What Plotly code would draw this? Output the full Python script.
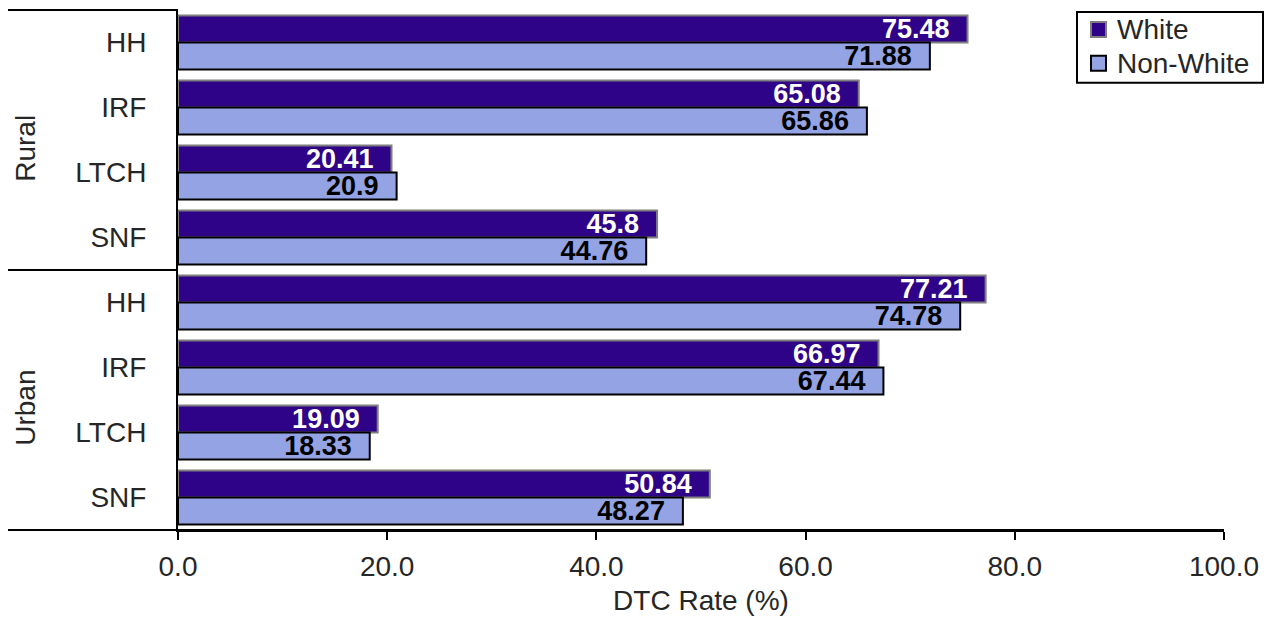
import plotly.graph_objects as go

# Discharge-to-community rates by setting, rurality and race
groups = ["Rural", "Rural", "Rural", "Rural", "Urban", "Urban", "Urban", "Urban"]
settings = ["HH", "IRF", "LTCH", "SNF", "HH", "IRF", "LTCH", "SNF"]
white = [75.48, 65.08, 20.41, 45.8, 77.21, 66.97, 19.09, 50.84]
non_white = [71.88, 65.86, 20.9, 44.76, 74.78, 67.44, 18.33, 48.27]
x_ticks = [0, 20, 40, 60, 80, 100]
x_tick_labels = ["0.0", "20.0", "40.0", "60.0", "80.0", "100.0"]
series_names = ["White", "Non-White"]
series_fill = ["#2f0388", "#94a3e3"]
series_edge = ["#7f7f7f", "black"]
label_colors = ["white", "black"]

keys = [f"{g} {s}" for g, s in zip(groups, settings)]
FONT = "Liberation Sans, Arial, sans-serif"
TXT = "#262626"
PAD = "\u00a0\u00a0"

# plot area in pixels, used to place decorations in paper coordinates
L, R, T, B = 178, 1224, 10, 532


def px(x):
    return (x - L) / (R - L)


def py(y):
    return (B - y) / (B - T)


fig = go.Figure()
for name, vals, fill, edge, lc in zip(series_names, [white, non_white],
                                      series_fill, series_edge, label_colors):
    fig.add_trace(go.Bar(
        name=name, y=keys, x=vals, orientation="h",
        marker=dict(color=fill, line=dict(color=edge, width=2)),
        text=[f"{v:g}{PAD}" for v in vals], textposition="inside",
        insidetextanchor="end", constraintext="none",
        textfont=dict(family=FONT, size=27, color=lc, weight="bold"),
        showlegend=False,
    ))

# Group dividers to the left of the category axis
for yy in (T, (T + B) / 2):
    fig.add_shape(type="line", xref="paper", yref="paper",
                  x0=px(8), x1=0, y0=py(yy), y1=py(yy),
                  line=dict(color="black", width=2))
fig.add_shape(type="line", xref="paper", yref="paper",
              x0=px(8), x1=1, y0=0, y1=0,
              line=dict(color="black", width=2))

# Rotated group labels
unique_groups = list(dict.fromkeys(groups))
for i, g in enumerate(unique_groups):
    fig.add_annotation(text=g, xref="paper", yref="paper",
                       x=px(26), y=1 - (i + 0.5) / len(unique_groups) - 0.015,
                       xanchor="center", yanchor="middle",
                       textangle=-90, showarrow=False,
                       font=dict(family=FONT, size=28, color=TXT))

# Legend box with swatches
fig.add_shape(type="rect", xref="paper", yref="paper",
              x0=px(1077), x1=px(1263), y0=py(83), y1=py(12),
              line=dict(color="black", width=2), fillcolor="white")
for j, (name, fill, edge) in enumerate(zip(series_names, series_fill, series_edge)):
    cy = 29.5 + j * 34
    fig.add_shape(type="rect", xref="paper", yref="paper",
                  x0=px(1091), x1=px(1106), y0=py(cy + 7.5), y1=py(cy - 7.5),
                  line=dict(color=edge, width=2), fillcolor=fill)
    fig.add_annotation(text=name, xref="paper", yref="paper",
                       x=px(1115), y=py(cy), xanchor="left", yanchor="middle",
                       showarrow=False,
                       font=dict(family=FONT, size=28, color=TXT))

fig.update_layout(
    width=1272, height=621,
    margin=dict(l=L, r=1272 - R, t=T, b=621 - B),
    paper_bgcolor="white", plot_bgcolor="white",
    barmode="group", bargap=0.17, bargroupgap=0,
    font=dict(family=FONT, color=TXT),
    showlegend=False,
)
fig.update_xaxes(
    range=[0, 100], tickvals=x_ticks, ticktext=x_tick_labels,
    showgrid=False, zeroline=False,
    showline=True, linecolor="black", linewidth=2,
    ticks="outside", ticklen=8, tickwidth=2, tickcolor="black",
    ticklabelstandoff=2,
    tickfont=dict(family=FONT, size=28, color=TXT),
    title=dict(text="DTC Rate (%)", font=dict(family=FONT, size=28, color=TXT),
               standoff=10),
)
fig.update_yaxes(
    type="category", categoryorder="array", categoryarray=keys,
    autorange="reversed", tickvals=keys, ticktext=settings,
    showgrid=False, showline=True, linecolor="black", linewidth=2,
    ticks="", ticklabelstandoff=24,
    tickfont=dict(family=FONT, size=28, color=TXT),
)

fig.write_html("out.html")
